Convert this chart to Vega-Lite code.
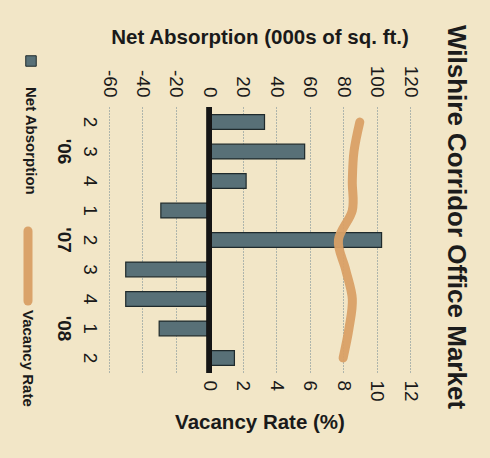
{
  "$schema": "https://vega.github.io/schema/vega-lite/v6.json",
  "width": 301,
  "height": 266,
  "autosize": {"type": "none"},
  "padding": {"left": 109, "top": 107, "right": 80, "bottom": 85},
  "background": "#f2e6c7",
  "config": {
    "view": {"stroke": null},
    "axis": {"labelFont": "Liberation Sans", "labelFontSize": 19, "labelColor": "#1a1a1a", "titleFont": "Liberation Sans", "titleFontSize": 20.5, "titleFontWeight": "bold", "titleColor": "#1a1a1a"}
  },
  "title": {"text": "Wilshire Corridor Office Market", "orient": "right", "angle": 90, "anchor": "middle", "font": "Liberation Sans", "fontSize": 26, "fontWeight": "bold", "color": "#1c1c1c", "offset": 24, "dx": -23},
  "data": {"values": [
    {"quarter": "2006Q2", "absorption": 33, "vacancy": 9.0},
    {"quarter": "2006Q3", "absorption": 57, "vacancy": 8.65},
    {"quarter": "2006Q4", "absorption": 22, "vacancy": 8.55},
    {"quarter": "2007Q1", "absorption": -29, "vacancy": 8.55},
    {"quarter": "2007Q2", "absorption": 103, "vacancy": 7.72},
    {"quarter": "2007Q3", "absorption": -50, "vacancy": 8.15},
    {"quarter": "2007Q4", "absorption": -50, "vacancy": 8.55},
    {"quarter": "2008Q1", "absorption": -30, "vacancy": 8.35},
    {"quarter": "2008Q2", "absorption": 15, "vacancy": 8.0}
  ]},
  "resolve": {"scale": {"x": "independent", "fill": "independent", "color": "independent"}, "axis": {"x": "independent", "y": "independent"}},
  "layer": [
    {
      "mark": {"type": "bar", "stroke": "#1f2a2c", "strokeWidth": 1.2},
      "encoding": {
        "y": {"field": "quarter", "type": "nominal", "sort": null,
          "scale": {"paddingInner": 0.5, "paddingOuter": 0.26},
          "axis": {"orient": "left", "title": null, "domain": false, "ticks": false, "labelAngle": 90, "labelAlign": "center", "labelBaseline": "top", "labelPadding": 11, "labelExpr": "slice(datum.value, 5)"}},
        "x": {"field": "absorption", "type": "quantitative",
          "scale": {"domain": [-60, 120], "nice": false},
          "axis": {"orient": "top", "values": [-60, -40, -20, 0, 20, 40, 60, 80, 100, 120], "labelExpr": "replace(datum.label, '\u2212', '-')", "labelAngle": 90, "labelAlign": "right", "labelBaseline": "middle", "labelPadding": 10, "domain": false, "ticks": false, "grid": true, "gridDash": [1, 2], "gridColor": "#6a8590", "gridWidth": 1, "title": "Net Absorption (000s of sq. ft.)", "titlePadding": 18}},
        "fill": {"datum": "Net Absorption", "scale": {"range": ["#587077"]},
          "legend": {"title": null, "orient": "none", "legendX": -78, "legendY": -46, "padding": 0, "symbolType": "square", "symbolSize": 110, "symbolStrokeColor": "#1f2a2c", "symbolStrokeWidth": 1, "labelFont": "Liberation Sans", "labelFontSize": 15, "labelFontWeight": "bold", "labelColor": "#1a1a1a",
            "encode": {"symbols": {"update": {"x": {"value": 0}, "y": {"value": 0}}}, "labels": {"update": {"x": {"value": 0}, "y": {"value": 26}, "angle": {"value": 90}, "align": {"value": "left"}, "baseline": {"value": "middle"}}}}}}
      }
    },
    {
      "mark": {"type": "rule", "color": "#151515", "strokeWidth": 5},
      "encoding": {"x": {"datum": 0, "type": "quantitative", "scale": {"domain": [-60, 120], "nice": false}, "axis": null}}
    },
    {
      "mark": {"type": "line", "strokeWidth": 9, "strokeCap": "round", "interpolate": "cardinal", "opacity": 0.95},
      "encoding": {
        "y": {"field": "quarter", "type": "nominal", "sort": null,
          "axis": {"orient": "left", "offset": 26, "title": null, "domain": false, "ticks": false, "labelAngle": 90, "labelAlign": "center", "labelBaseline": "top", "labelPadding": 11, "labelFontWeight": "bold",
            "labelExpr": "datum.value == '2006Q3' ? \"'06\" : datum.value == '2007Q2' ? \"\u2002'07\" : datum.value == '2008Q1' ? \"'08\" : ''"}},
        "x": {"field": "vacancy", "type": "quantitative",
          "scale": {"domain": [-6, 12], "nice": false},
          "axis": {"orient": "bottom", "values": [0, 2, 4, 6, 8, 10, 12], "labelAngle": 90, "labelAlign": "left", "labelBaseline": "middle", "labelPadding": 7, "domain": false, "ticks": false, "grid": false, "title": "Vacancy Rate (%)", "titlePadding": 11}},
        "color": {"datum": "Vacancy Rate", "scale": {"range": ["#d9a066"]},
          "legend": {"title": null, "orient": "none", "legendX": -81, "legendY": 159, "padding": 0, "symbolType": "M0,-1L0,1", "symbolSize": 4900, "symbolStrokeWidth": 9, "labelFont": "Liberation Sans", "labelFontSize": 15, "labelFontWeight": "bold", "labelColor": "#1a1a1a",
            "encoding": {"symbols": {"x": {"value": 0}, "y": {"value": 0}, "strokeCap": {"value": "round"}}, "labels": {"x": {"value": 0}, "y": {"value": 44}, "angle": {"value": 90}, "align": {"value": "left"}, "baseline": {"value": "middle"}}}}}
      }
    }
  ]
}
